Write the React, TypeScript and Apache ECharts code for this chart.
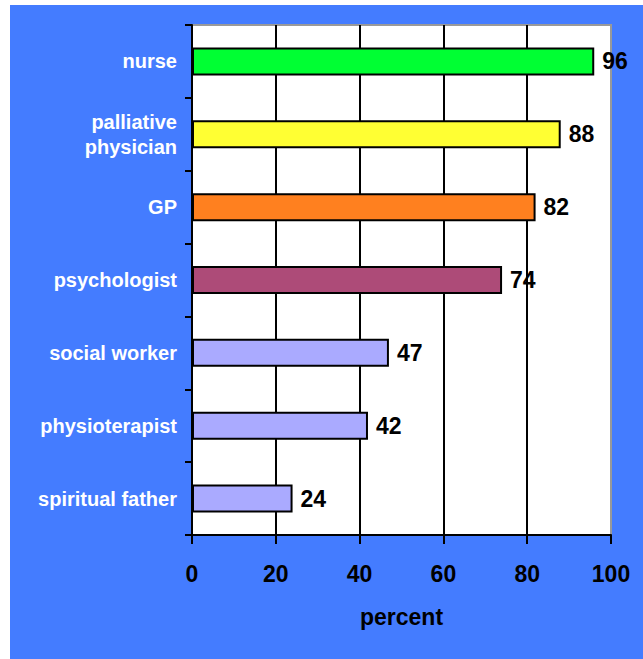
import React, { useEffect, useRef } from "react";
import * as echarts from "echarts";

const categories = [
  "nurse",
  "palliative\nphysician",
  "GP",
  "psychologist",
  "social worker",
  "physioterapist",
  "spiritual father",
];
const values = [96, 88, 82, 74, 47, 42, 24];
const barColors = ["#00ff33", "#ffff33", "#ff801f", "#ad4b78", "#aaaaff", "#aaaaff", "#aaaaff"];
const xTicks = { min: 0, max: 100, interval: 20 };
const xName = "percent";

export default function App() {
  const ref = useRef<HTMLDivElement>(null);
  useEffect(() => {
    if (!ref.current) return;
    const chart = echarts.init(ref.current, undefined, { renderer: "svg" });
    const font = "'Liberation Sans', Arial, Helvetica, sans-serif";
    chart.setOption({
      animation: false,
      backgroundColor: "#447cff",
      textStyle: { fontFamily: font },
      grid: {
        left: 182,
        top: 20,
        right: 32,
        bottom: 124,
        show: true,
        backgroundColor: "#ffffff",
        borderColor: "#999999",
        borderWidth: 2,
      },
      xAxis: {
        type: "value",
        min: xTicks.min,
        max: xTicks.max,
        interval: xTicks.interval,
        name: xName,
        nameLocation: "middle",
        nameGap: 70,
        nameTextStyle: { color: "#000", fontSize: 23, fontWeight: "bold", fontFamily: font },
        axisLine: { show: true, lineStyle: { color: "#000", width: 2 } },
        axisTick: { show: true, length: 9, lineStyle: { color: "#000", width: 2 } },
        axisLabel: { color: "#000", fontSize: 23, fontWeight: "bold", margin: 27, fontFamily: font },
        splitLine: {
          show: true,
          lineStyle: { color: ["#000", "#000", "#000", "#000", "#000", "#999"], width: 2 },
        },
      },
      yAxis: {
        type: "category",
        inverse: true,
        data: categories,
        axisLine: { show: true, lineStyle: { color: "#000", width: 2 } },
        axisTick: { show: true, length: 7, inside: false, lineStyle: { color: "#000", width: 2 } },
        axisLabel: {
          color: "#fff",
          fontSize: 20,
          fontWeight: "bold",
          margin: 15,
          lineHeight: 25,
          fontFamily: font,
        },
        splitLine: { show: false },
      },
      series: [
        {
          type: "bar",
          barWidth: 28,
          data: values.map((v, i) => ({
            value: v,
            itemStyle: { color: barColors[i], borderColor: "#000", borderWidth: 2 },
          })),
          label: {
            show: true,
            position: "right",
            distance: 8,
            color: "#000",
            fontSize: 23,
            fontWeight: "bold",
            fontFamily: font,
          },
        },
      ],
    });
    return () => chart.dispose();
  }, []);
  return (
    <div style={{ position: "absolute", left: 0, top: 0, width: 643, height: 659, background: "#fff" }}>
      <div ref={ref} style={{ position: "absolute", left: 10, top: 5, width: 633, height: 654 }} />
    </div>
  );
}
